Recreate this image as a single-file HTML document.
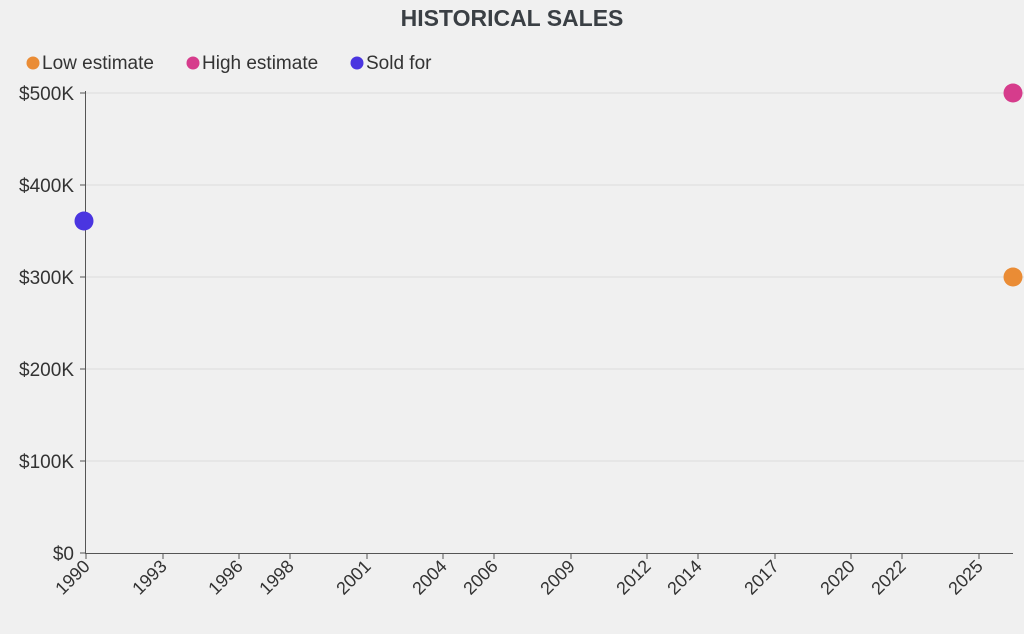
<!DOCTYPE html>
<html><head><style>
body{margin:0;background:#f0f0f0;}
svg{display:block;font-family:"Liberation Sans",sans-serif;}
</style></head><body>
<svg width="1024" height="634" viewBox="0 0 1024 634">
<rect width="1024" height="634" fill="#f0f0f0"/>
<text x="512" y="26" text-anchor="middle" font-size="23" font-weight="bold" fill="#3a3f44">HISTORICAL SALES</text>
<g font-size="19" fill="#333">
<circle cx="33" cy="63" r="6.5" fill="#ea8c35"/><text x="42" y="69">Low estimate</text>
<circle cx="193" cy="63" r="6.5" fill="#d63c8c"/><text x="202" y="69">High estimate</text>
<circle cx="357" cy="63" r="6.5" fill="#4a35e0"/><text x="366" y="69">Sold for</text>
</g>
<g stroke="#dcdcdc" stroke-width="1">
<line x1="86" x2="1024" y1="93" y2="93"/><line x1="86" x2="1024" y1="185" y2="185"/>
<line x1="86" x2="1024" y1="277" y2="277"/><line x1="86" x2="1024" y1="369" y2="369"/>
<line x1="86" x2="1024" y1="461" y2="461"/>
</g>
<g stroke="#555" stroke-width="1">
<line x1="85.5" x2="85.5" y1="91" y2="554"/>
<line x1="85" x2="1013" y1="553.5" y2="553.5"/>
<line x1="80" x2="85" y1="93" y2="93"/><line x1="80" x2="85" y1="185" y2="185"/>
<line x1="80" x2="85" y1="277" y2="277"/><line x1="80" x2="85" y1="369" y2="369"/>
<line x1="80" x2="85" y1="461" y2="461"/><line x1="80" x2="85" y1="553" y2="553"/>
</g>
<g font-size="19" fill="#333" text-anchor="end">
<text x="74" y="100">$500K</text><text x="74" y="192">$400K</text><text x="74" y="284">$300K</text>
<text x="74" y="376">$200K</text><text x="74" y="468">$100K</text><text x="74" y="560">$0</text>
</g>
<g font-size="18" fill="#333" text-anchor="end" stroke="#555">
<g transform="translate(86,554)"><line y2="5"/><text stroke="none" x="-6" y="13" transform="rotate(-45)">1990</text></g>
<g transform="translate(163,554)"><line y2="5"/><text stroke="none" x="-6" y="13" transform="rotate(-45)">1993</text></g>
<g transform="translate(239,554)"><line y2="5"/><text stroke="none" x="-6" y="13" transform="rotate(-45)">1996</text></g>
<g transform="translate(290,554)"><line y2="5"/><text stroke="none" x="-6" y="13" transform="rotate(-45)">1998</text></g>
<g transform="translate(367,554)"><line y2="5"/><text stroke="none" x="-6" y="13" transform="rotate(-45)">2001</text></g>
<g transform="translate(443,554)"><line y2="5"/><text stroke="none" x="-6" y="13" transform="rotate(-45)">2004</text></g>
<g transform="translate(494,554)"><line y2="5"/><text stroke="none" x="-6" y="13" transform="rotate(-45)">2006</text></g>
<g transform="translate(571,554)"><line y2="5"/><text stroke="none" x="-6" y="13" transform="rotate(-45)">2009</text></g>
<g transform="translate(647,554)"><line y2="5"/><text stroke="none" x="-6" y="13" transform="rotate(-45)">2012</text></g>
<g transform="translate(698,554)"><line y2="5"/><text stroke="none" x="-6" y="13" transform="rotate(-45)">2014</text></g>
<g transform="translate(775,554)"><line y2="5"/><text stroke="none" x="-6" y="13" transform="rotate(-45)">2017</text></g>
<g transform="translate(851,554)"><line y2="5"/><text stroke="none" x="-6" y="13" transform="rotate(-45)">2020</text></g>
<g transform="translate(902,554)"><line y2="5"/><text stroke="none" x="-6" y="13" transform="rotate(-45)">2022</text></g>
<g transform="translate(979,554)"><line y2="5"/><text stroke="none" x="-6" y="13" transform="rotate(-45)">2025</text></g>
</g>
<circle cx="84" cy="221" r="9.5" fill="#4a35e0"/>
<circle cx="1013" cy="93" r="9.5" fill="#d63c8c"/>
<circle cx="1013" cy="277" r="9.5" fill="#ea8c35"/>
</svg>
</body></html>
